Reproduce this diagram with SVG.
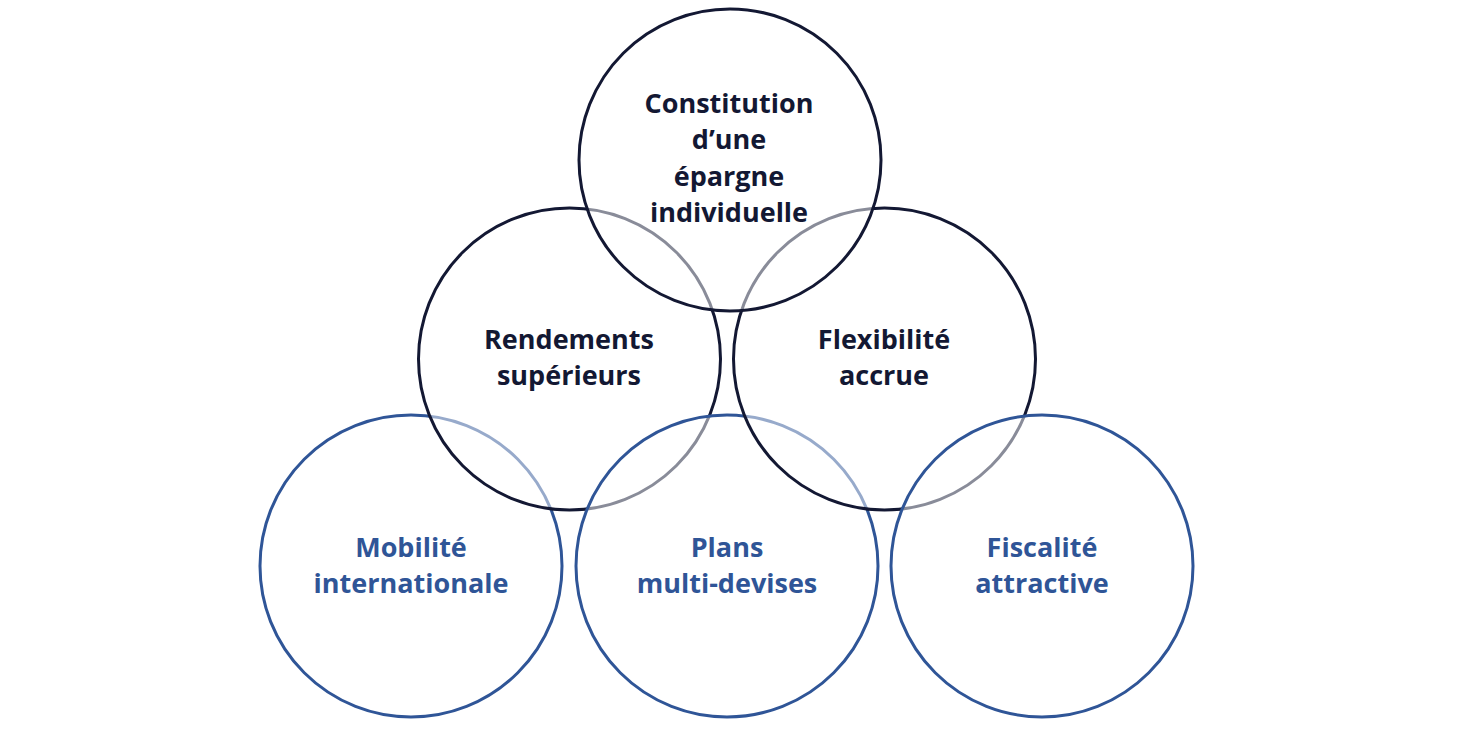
<svg xmlns="http://www.w3.org/2000/svg" width="1459" height="731" viewBox="0 0 1459 731">
<style>
.c{fill:#fff;fill-opacity:0.5;stroke-width:3}
.dk{stroke:#131833}
.bl{stroke:#2f5597}
.t{font-family:"Open Sans",Lato,sans-serif;font-weight:bold;font-size:27px;text-anchor:middle}
.td{fill:#131833}
.tb{fill:#2f5597}
</style>
<rect width="1459" height="731" fill="#fff"/>
<g id="mobilite">
<circle class="c bl" cx="411" cy="566" r="151"/>
<text class="t tb" x="411" y="557">Mobilité</text>
<text class="t tb" x="411" y="593">internationale</text>
</g>
<g id="rendements">
<circle class="c dk" cx="569.5" cy="359" r="151"/>
<text class="t td" x="569" y="349">Rendements</text>
<text class="t td" x="569" y="385">supérieurs</text>
</g>
<g id="plans">
<circle class="c bl" cx="727" cy="566" r="151"/>
<text class="t tb" x="727" y="557">Plans</text>
<text class="t tb" x="727" y="593">multi-devises</text>
</g>
<g id="flexibilite">
<circle class="c dk" cx="884.5" cy="359" r="151"/>
<text class="t td" x="884" y="349">Flexibilité</text>
<text class="t td" x="884" y="385">accrue</text>
</g>
<g id="fiscalite">
<circle class="c bl" cx="1042" cy="566" r="151"/>
<text class="t tb" x="1042" y="557">Fiscalité</text>
<text class="t tb" x="1042" y="593">attractive</text>
</g>
<g id="constitution">
<circle class="c dk" cx="730" cy="160" r="151"/>
<text class="t td" x="729" y="113">Constitution</text>
<text class="t td" x="729" y="149">d’une</text>
<text class="t td" x="729" y="186">épargne</text>
<text class="t td" x="729" y="222">individuelle</text>
</g>
<g id="connectors"/>
</svg>
